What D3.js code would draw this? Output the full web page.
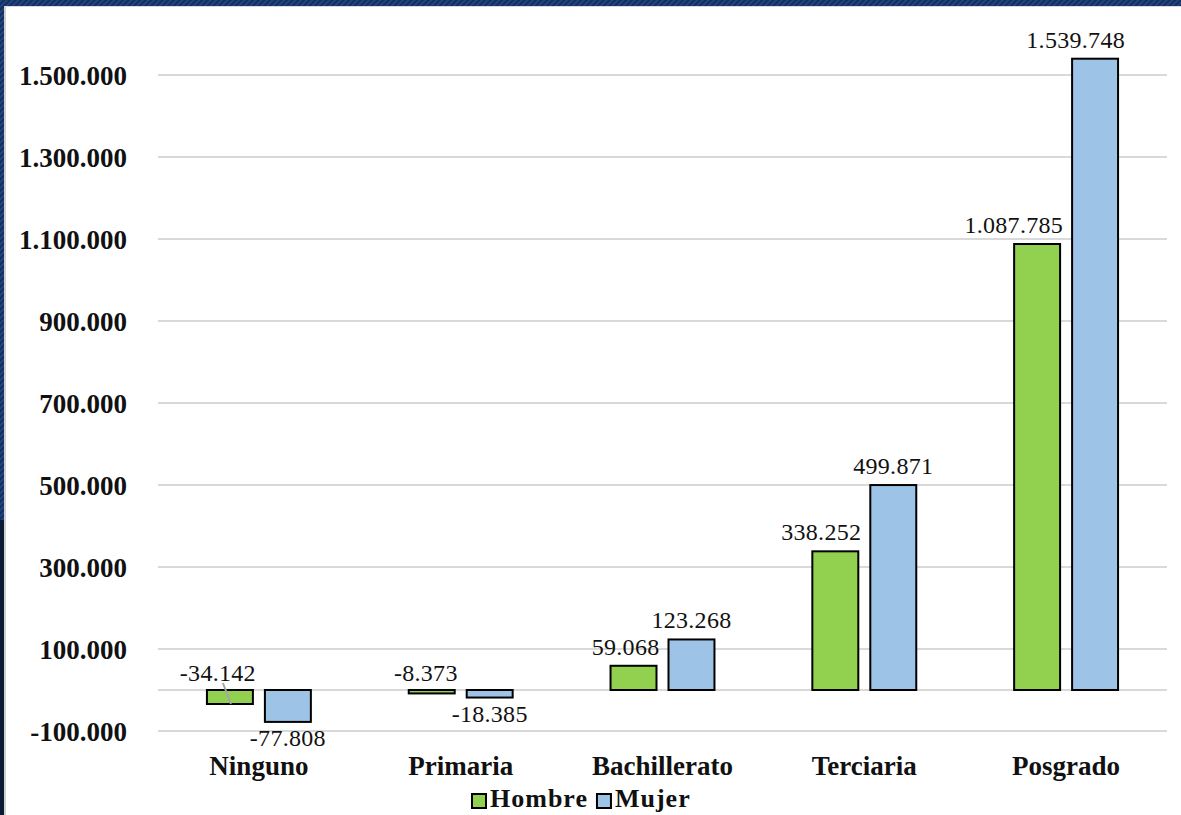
<!DOCTYPE html>
<html>
<head>
<meta charset="utf-8">
<script src="https://cdn.jsdelivr.net/npm/d3@7"></script>
<style>
  body { margin: 0; background: #fff; }
  svg { display: block; }
</style>
</head>
<body>
<div id="chart"></div>
<script>
// data
var categories = ["Ninguno", "Primaria", "Bachillerato", "Terciaria", "Posgrado"];
var series = ["Hombre", "Mujer"];
var hombre = [-34142, -8373, 59068, 338252, 1087785];
var mujer = [-77808, -18385, 123268, 499871, 1539748];
var yTicks = [-100000, 100000, 300000, 500000, 700000, 900000, 1100000, 1300000, 1500000];

var colors = { "Hombre": "#92d050", "Mujer": "#9dc3e6" };

var W = 1181, H = 815;
var serif = "'Liberation Serif', 'Times New Roman', serif";

var es = d3.formatLocale({ decimal: ",", thousands: ".", grouping: [3], currency: ["$", ""], minus: "-" });
var fmt = es.format(",d");

var svg = d3.select('#chart').append('svg')
    .attr('width', W)
    .attr('height', H);

// frame: navy hatched band on top and left
var defs = svg.append('defs');
var pat = defs.append('pattern')
    .attr('id', 'hatch')
    .attr('patternUnits', 'userSpaceOnUse')
    .attr('width', 4).attr('height', 4)
    .attr('patternTransform', 'rotate(45)');
pat.append('rect').attr('width', 4).attr('height', 4).attr('fill', '#132e5f');
pat.append('rect').attr('width', 2).attr('height', 4).attr('fill', '#22457e');

svg.append('rect')
    .attr('x', 0).attr('y', 0)
    .attr('width', W).attr('height', H)
    .attr('fill', 'url(#hatch)');
svg.append('rect')
    .attr('x', 0).attr('y', 520)
    .attr('width', 5).attr('height', H - 520)
    .attr('fill', '#0c1b33');

svg.append('rect')
    .attr('x', 4).attr('y', 6)
    .attr('width', W - 4).attr('height', H - 6)
    .attr('fill', '#fff');
svg.append('line')
    .attr('x1', 5).attr('x2', 5).attr('y1', 6).attr('y2', H)
    .attr('stroke', '#cfcfcf').attr('stroke-width', 2);
svg.append('line')
    .attr('x1', 4).attr('x2', W).attr('y1', 6.5).attr('y2', 6.5)
    .attr('stroke', '#dcdcdc').attr('stroke-width', 1);

// scales
var x0 = d3.scaleBand()
    .domain(categories)
    .range([158, 1167])
    .paddingInner(0.485)
    .paddingOuter(0.2425);

var x1 = d3.scaleBand()
    .domain(series)
    .range([0, x0.bandwidth()])
    .paddingInner(0.207);

var y = d3.scaleLinear()
    .domain([-100000, 1500000])
    .range([731, 75]);

// gridlines
var grid = svg.append('g').attr('class', 'grid');
grid.selectAll('line')
    .data(yTicks.concat([0]))
    .enter().append('line')
    .attr('x1', 158).attr('x2', 1167)
    .attr('y1', function(d) { return y(d); })
    .attr('y2', function(d) { return y(d); })
    .attr('stroke', '#d9d9d9')
    .attr('stroke-width', 2);

// y axis labels
var yAxis = svg.append('g')
    .attr('transform', 'translate(127,0)')
    .call(d3.axisLeft(y).tickValues(yTicks).tickFormat(fmt).tickSize(0).tickPadding(0));
yAxis.select('.domain').remove();
yAxis.selectAll('text')
    .attr('dy', null)
    .attr('y', 9)
    .style('font-family', serif)
    .style('font-size', '27px')
    .style('font-weight', 'bold')
    .style('fill', '#111');

// x axis labels
var xAxis = svg.append('g')
    .attr('transform', 'translate(0,' + 756 + ')')
    .call(d3.axisBottom(x0).tickSize(0).tickPadding(0));
xAxis.select('.domain').remove();
xAxis.selectAll('text')
    .attr('dy', null)
    .attr('y', 19)
    .style('font-family', serif)
    .style('font-size', '27px')
    .style('font-weight', 'bold')
    .style('fill', '#111');

// bars
var rows = [];
categories.forEach(function(c, i) {
    rows.push({ cat: c, s: "Hombre", v: hombre[i] });
    rows.push({ cat: c, s: "Mujer", v: mujer[i] });
});

var bars = svg.append('g').attr('class', 'bars');
bars.selectAll('rect')
    .data(rows)
    .enter().append('rect')
    .attr('x', function(d) { return x0(d.cat) + x1(d.s); })
    .attr('y', function(d) { return y(Math.max(0, d.v)); })
    .attr('width', x1.bandwidth())
    .attr('height', function(d) { return Math.abs(y(d.v) - y(0)); })
    .attr('fill', function(d) { return colors[d.s]; })
    .attr('stroke', '#000')
    .attr('stroke-width', 2);

// value labels
var labels = svg.append('g').attr('class', 'labels');
rows.forEach(function(d) {
    var left = x0(d.cat) + x1(d.s);
    var right = left + x1.bandwidth();
    var mid = left + x1.bandwidth() / 2;
    var ly;
    if (d.v >= 0) ly = y(d.v) - 11;
    else if (d.s === "Hombre") ly = y(0) - 9;
    else ly = y(d.v) + 24;

    var t = labels.append('text')
        .attr('y', ly)
        .style('font-family', serif)
        .style('font-size', '24px')
        .style('letter-spacing', '0.3px')
        .style('fill', '#111')
        .text(fmt(d.v));

    if (d.s === "Hombre") {
        t.attr('x', right + 3).attr('text-anchor', 'end');
        // leader line when the label sits away from a negative bar
        if (d.v < 0 && y(d.v) - y(0) > 12) {
            labels.append('line')
                .attr('x1', mid - 7).attr('y1', y(0) - 7)
                .attr('x2', mid + 1).attr('y2', y(d.v))
                .attr('stroke', '#a6a6a6')
                .attr('stroke-width', 2);
        }
    } else {
        var w = t.node().getComputedTextLength();
        var cx = Math.min(mid, 1125 - w / 2);
        t.attr('x', cx).attr('text-anchor', 'middle');
    }
});

// legend
var legend = svg.append('g').attr('class', 'legend');
var lx = 472;
series.forEach(function(s) {
    legend.append('rect')
        .attr('x', lx).attr('y', 794)
        .attr('width', 14).attr('height', 14)
        .attr('fill', colors[s])
        .attr('stroke', '#000')
        .attr('stroke-width', 2);
    var t = legend.append('text')
        .attr('x', lx + 18).attr('y', 807)
        .style('font-family', serif)
        .style('font-size', '26px')
        .style('font-weight', 'bold')
        .style('letter-spacing', '1px')
        .style('fill', '#111')
        .text(s);
    lx += 18 + t.node().getComputedTextLength() + 9;
});
</script>
</body>
</html>
